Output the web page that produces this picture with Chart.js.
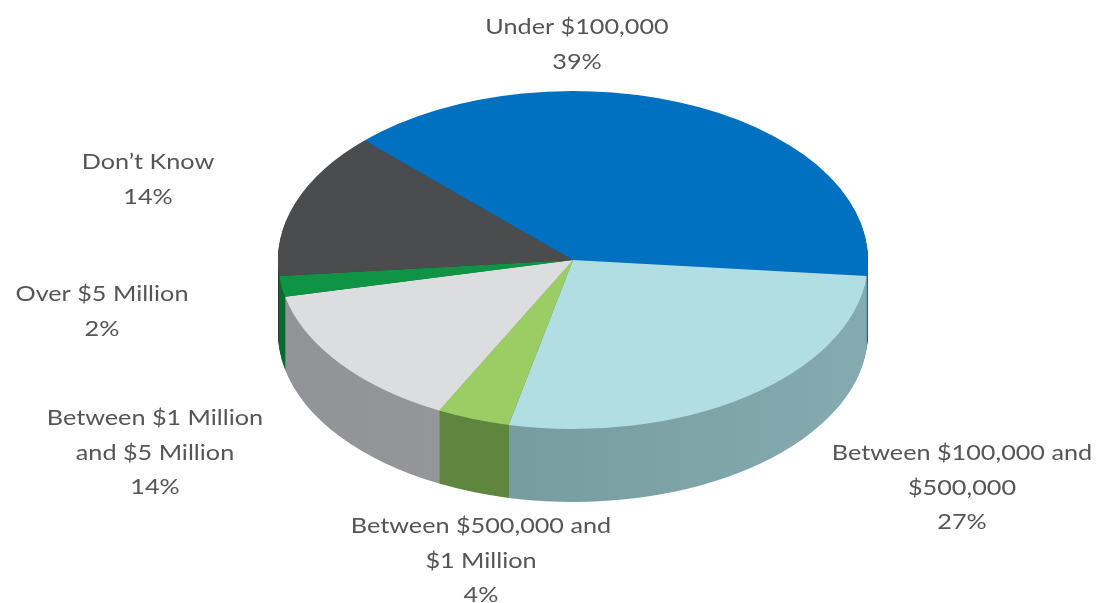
<!DOCTYPE html>
<html><head><meta charset="utf-8">
<script src="https://cdn.jsdelivr.net/npm/chart.js@4/dist/chart.umd.min.js"></script>
<style>html,body{margin:0;padding:0;background:#fff;overflow:hidden}canvas{display:block}</style>
</head><body>
<canvas id="c" width="1104" height="603"></canvas>
<script>
// ---- data ----
const categories = ["Under $100,000", "Between $100,000 and $500,000", "Between $500,000 and $1 Million", "Between $1 Million and $5 Million", "Over $5 Million", "Don\u2019t Know"];
const shares = [39, 27, 4, 14, 2, 14];
const labelNameLines = [["Under $100,000"], ["Between $100,000 and", "$500,000"], ["Between $500,000 and", "$1 Million"], ["Between $1 Million", "and $5 Million"], ["Over $5 Million"], ["Don\u2019t Know"]];

// ---- styles / layout ----
const topColors = ["#0070c0", "#b0dee3", "#9bcd65", "#dcddde", "#0f9446", "#4b4c4e"];
const sideLeft = ["#00589a", "#6f9397", "#5c823d", "#929396", "#096a31", "#38393b"];
const sideRight = ["#0a66a8", "#84abaf", "#658c44", "#9c9da0", "#0c7538", "#3e3f41"];
const PIE = { cx: 573, cy: 260, rx: 295, ry: 169, depth: 73, rotation: -45 };
const labelAnchors = [[577, 34], [962, 460], [481, 533], [155, 425], [102, 301], [148, 169]];
const LINE_H = 34.5;
const TEXT = { font: "21px Lato", color: "#555555", stretch: 1.2 };

const tilt = PIE.ry / PIE.rx;

const pie3d = {
  id: "pie3d",
  beforeDatasetsDraw(chart) {
    const ctx = chart.ctx;
    const meta = chart.getDatasetMeta(0);
    const a0 = meta.data[0];
    ctx.save();
    ctx.translate(0, PIE.cy);
    ctx.scale(1, tilt);
    ctx.translate(0, -a0.y);
    const fills = meta.data.map((a, i) => {
      const g = ctx.createLinearGradient(a.x - a.outerRadius, 0, a.x + a.outerRadius, 0);
      g.addColorStop(0, sideLeft[i]);
      g.addColorStop(1, sideRight[i]);
      return g;
    });
    for (let t = PIE.depth; t >= 1; t--) {
      meta.data.forEach((a, i) => {
        ctx.save();
        ctx.translate(0, t / tilt);
        ctx.beginPath();
        ctx.moveTo(a.x, a.y);
        ctx.arc(a.x, a.y, a.outerRadius, a.startAngle, a.endAngle);
        ctx.closePath();
        ctx.fillStyle = fills[i];
        ctx.fill();
        ctx.restore();
      });
    }
  },
  afterDatasetsDraw(chart) {
    chart.ctx.restore();
  },
  afterDraw(chart) {
    const ctx = chart.ctx;
    ctx.save();
    ctx.font = TEXT.font;
    ctx.fillStyle = TEXT.color;
    ctx.textAlign = "center";
    ctx.textBaseline = "alphabetic";
    shares.forEach((v, i) => {
      const lines = labelNameLines[i].concat([v + "%"]);
      const [x, y] = labelAnchors[i];
      lines.forEach((ln, j) => {
        ctx.save();
        ctx.translate(x, y + j * LINE_H);
        ctx.scale(TEXT.stretch, 1);
        ctx.fillText(ln, 0, 0);
        ctx.restore();
      });
    });
    ctx.restore();
  }
};

new Chart(document.getElementById("c"), {
  type: "pie",
  data: {
    labels: categories,
    datasets: [{
      data: shares,
      backgroundColor: topColors,
      borderWidth: 0,
      hoverOffset: 0,
      clip: false
    }]
  },
  options: {
    responsive: false,
    devicePixelRatio: 1,
    animation: false,
    rotation: PIE.rotation,
    layout: { padding: { left: PIE.cx - PIE.rx, right: 1104 - (PIE.cx + PIE.rx), top: 6, bottom: 603 - 6 - 2 * PIE.rx } },
    plugins: { legend: { display: false }, tooltip: { enabled: false } },
    events: []
  },
  plugins: [pie3d]
});
</script>
</body></html>
